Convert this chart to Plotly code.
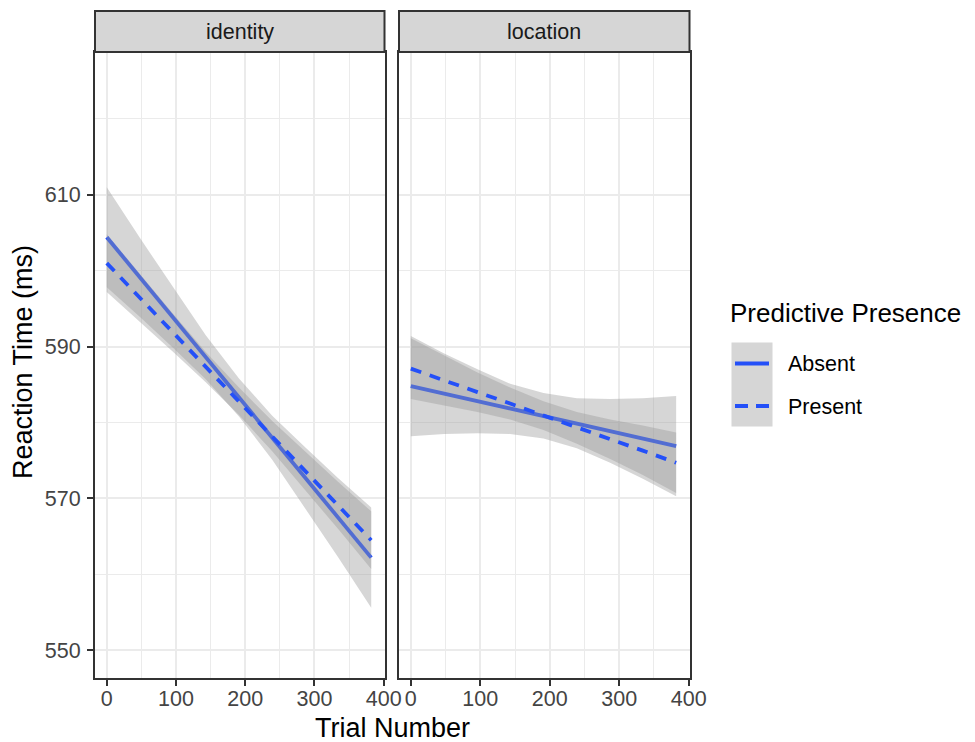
import plotly.graph_objects as go

# ---------------- data ----------------
PANELS = ["identity", "location"]
GROUPS = ["Absent", "Present"]
TRIAL = [0, 48, 96, 143, 191, 239, 287, 334, 382]

# identity panel
ID_ABS_FIT = [604.4, 599.1, 593.8, 588.6, 583.3, 578.0, 572.7, 567.5, 562.2]
ID_ABS_LO = [597.8, 593.9, 589.8, 585.7, 580.8, 575.1, 568.7, 562.3, 555.6]
ID_ABS_HI = [611.0, 604.3, 597.8, 591.5, 585.8, 580.9, 576.7, 572.7, 568.8]
ID_PRE_FIT = [601.0, 596.4, 591.8, 587.3, 582.8, 578.2, 573.6, 569.1, 564.5]
ID_PRE_LO = [597.2, 593.3, 589.3, 585.3, 581.0, 576.2, 571.1, 566.0, 560.7]
ID_PRE_HI = [604.8, 599.5, 594.3, 589.3, 584.6, 580.2, 576.1, 572.2, 568.3]

# location panel
LO_ABS_FIT = [584.8, 583.8, 582.8, 581.8, 580.9, 579.9, 578.9, 577.9, 576.9]
LO_ABS_LO = [578.2, 578.5, 578.6, 578.5, 577.9, 576.6, 574.7, 572.6, 570.3]
LO_ABS_HI = [591.4, 589.1, 587.0, 585.1, 583.9, 583.2, 583.1, 583.2, 583.5]
LO_PRE_FIT = [587.1, 585.5, 584.0, 582.5, 580.9, 579.3, 577.8, 576.3, 574.7]
LO_PRE_LO = [583.1, 582.3, 581.4, 580.4, 579.0, 577.2, 575.2, 573.1, 570.7]
LO_PRE_HI = [591.1, 588.8, 586.6, 584.6, 582.8, 581.4, 580.4, 579.6, 578.7]

X_TICKS = [0, 100, 200, 300, 400]
Y_TICKS = [550, 570, 590, 610]
X_TITLE = "Trial Number"
Y_TITLE = "Reaction Time (ms)"
LEGEND_TITLE = "Predictive Presence"

# ---------------- styling ----------------
W, H = 975, 742
W_EFF = 958  # width the page actually lays the figure out at
FONT = "Liberation Sans, Arial, Helvetica, sans-serif"
BLUE = "#2450F8"
RIBBON = "rgba(153,153,153,0.4)"
BORDER = "#333333"
GRID = "#EBEBEB"
LINE_W = 3.8
DASH = "11px,9px"


def px_x(x):
    return x / W_EFF


def px_y(y):
    return 1 - y / H


panel_px = [(95, 384.5), (399, 689.5)]
panel_top, panel_bot = 52, 678
strip_top = 11

data_sets = {
    "identity": {
        "Absent": (ID_ABS_FIT, ID_ABS_LO, ID_ABS_HI),
        "Present": (ID_PRE_FIT, ID_PRE_LO, ID_PRE_HI),
    },
    "location": {
        "Absent": (LO_ABS_FIT, LO_ABS_LO, LO_ABS_HI),
        "Present": (LO_PRE_FIT, LO_PRE_LO, LO_PRE_HI),
    },
}

fig = go.Figure()
for i, panel in enumerate(PANELS):
    xa = "x" if i == 0 else "x2"
    ya = "y" if i == 0 else "y2"
    for g in GROUPS:
        fit, lo, hi = data_sets[panel][g]
        fig.add_trace(go.Scatter(
            x=TRIAL + TRIAL[::-1], y=hi + lo[::-1],
            fill="toself", fillcolor=RIBBON, line=dict(width=0),
            mode="lines", hoverinfo="skip", showlegend=False,
            xaxis=xa, yaxis=ya,
        ))
        fig.add_trace(go.Scatter(
            x=TRIAL, y=fit, mode="lines", name=g,
            line=dict(color=BLUE, width=LINE_W,
                      dash="solid" if g == "Absent" else DASH),
            showlegend=False, xaxis=xa, yaxis=ya,
        ))

x_range = [-17, 401.2]
y_range = [546.35, 628.8]

common_x = dict(
    range=x_range, tickvals=X_TICKS, ticktext=[str(v) for v in X_TICKS],
    showline=True, mirror=True, linecolor=BORDER, linewidth=2,
    ticks="outside", ticklen=6, tickwidth=2, tickcolor=BORDER,
    showgrid=True, gridcolor=GRID, gridwidth=2, zeroline=False,
    minor=dict(dtick=50, tick0=0, showgrid=True, gridcolor=GRID, gridwidth=1.3, ticks=""),
    tickfont=dict(family=FONT, size=21.5, color="#444444"),
    ticklabelstandoff=-6,
)
common_y = dict(
    range=y_range, tickvals=Y_TICKS, ticktext=[str(v) for v in Y_TICKS],
    showline=True, mirror=True, linecolor=BORDER, linewidth=2,
    showgrid=True, gridcolor=GRID, gridwidth=2, zeroline=False,
    minor=dict(dtick=10, tick0=550, showgrid=True, gridcolor=GRID, gridwidth=1.3, ticks=""),
    tickfont=dict(family=FONT, size=21.5, color="#444444"),
    domain=[px_y(panel_bot), px_y(panel_top)],
)

fig.update_layout(
    width=W, height=H, autosize=False,
    margin=dict(l=0, r=0, t=0, b=0),
    paper_bgcolor="white", plot_bgcolor="white",
    showlegend=False,
    xaxis=dict(common_x, domain=[px_x(panel_px[0][0]), px_x(panel_px[0][1])], anchor="y"),
    xaxis2=dict(common_x, domain=[px_x(panel_px[1][0]), px_x(panel_px[1][1])], anchor="y2"),
    yaxis=dict(common_y, anchor="x", ticks="outside", ticklen=6, tickwidth=2,
               tickcolor=BORDER, ticklabelstandoff=2),
    yaxis2=dict(common_y, anchor="x2", matches="y", showticklabels=False, ticks=""),
)

shapes = []
annotations = []
# strips
for i, panel in enumerate(PANELS):
    x0, x1 = panel_px[i]
    shapes.append(dict(type="rect", xref="paper", yref="paper",
                       x0=px_x(x0), x1=px_x(x1), y0=px_y(panel_top), y1=px_y(strip_top),
                       fillcolor="#D6D6D6", line=dict(color=BORDER, width=2), layer="above"))
    annotations.append(dict(text=panel, xref="paper", yref="paper",
                            x=px_x((x0 + x1) / 2), y=px_y((strip_top + panel_top) / 2),
                            xanchor="center", yanchor="middle", showarrow=False,
                            font=dict(family=FONT, size=21.5, color="#1A1A1A")))

# axis titles
annotations.append(dict(text=X_TITLE, xref="paper", yref="paper",
                        x=px_x(392), y=px_y(728), xanchor="center", yanchor="middle",
                        showarrow=False, font=dict(family=FONT, size=27, color="black")))
annotations.append(dict(text=Y_TITLE, xref="paper", yref="paper",
                        x=px_x(23), y=px_y(362), xanchor="center", yanchor="middle",
                        textangle=-90, showarrow=False,
                        font=dict(family=FONT, size=27, color="black")))

# legend (drawn manually to match the ggplot key style)
annotations.append(dict(text=LEGEND_TITLE, xref="paper", yref="paper",
                        x=px_x(728), y=px_y(313), xanchor="left", yanchor="middle",
                        showarrow=False, font=dict(family=FONT, size=26, color="black")))
shapes.append(dict(type="rect", xref="paper", yref="paper",
                   x0=px_x(731.5), x1=px_x(772.5), y0=px_y(426.5), y1=px_y(342.5),
                   fillcolor="#D6D6D6", line=dict(width=0)))
key_y = [363.5, 406]
for g, ky in zip(GROUPS, key_y):
    shapes.append(dict(type="line", xref="paper", yref="paper",
                       x0=px_x(735), x1=px_x(769), y0=px_y(ky), y1=px_y(ky),
                       line=dict(color=BLUE, width=LINE_W,
                                 dash="solid" if g == "Absent" else "13px,8px")))
    annotations.append(dict(text=g, xref="paper", yref="paper",
                            x=px_x(786), y=px_y(ky + 1), xanchor="left", yanchor="middle",
                            showarrow=False, font=dict(family=FONT, size=21.5, color="black")))

fig.update_layout(shapes=shapes, annotations=annotations)
fig.write_html("out.html")
